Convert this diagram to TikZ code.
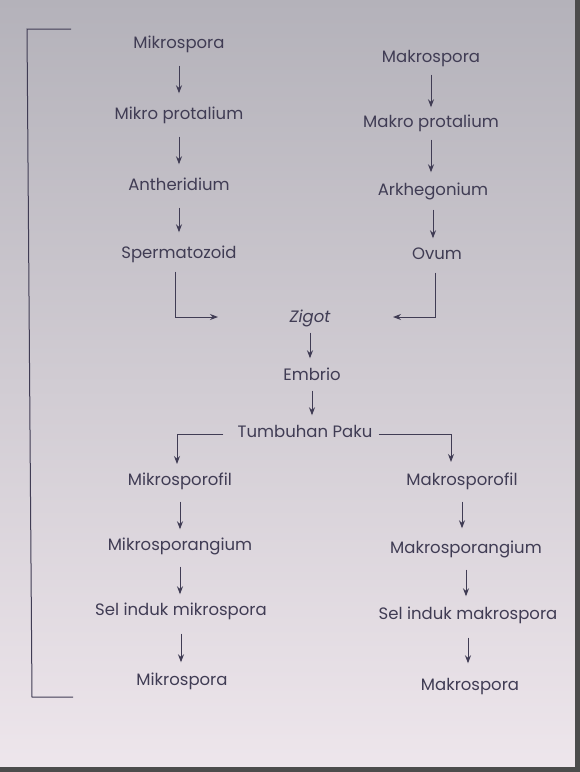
\documentclass[tikz,border=0pt]{standalone}
\usepackage{fontspec}
\setmainfont{Poppins}
\usetikzlibrary{arrows.meta,calc}
\definecolor{ink}{RGB}{64,60,84}
\definecolor{paperT}{RGB}{180,178,186}
\definecolor{paperB}{RGB}{238,230,236}

\begin{document}
\begin{tikzpicture}[x=1pt,y=-1pt,>={Stealth[length=8pt,width=6pt]},
  lbl/.style={font=\fontsize{16.5}{19}\selectfont,text=ink,inner sep=0pt,text height=12pt,text depth=4pt},
  arr/.style={->,ink,line width=1pt,shorten <=13.5pt,shorten >=13.5pt},
  elb/.style={->,ink,line width=1pt}]
\useasboundingbox (0,0) rectangle (580,772);
\shade[top color=paperT,bottom color=paperB] (0,0) rectangle (580,772);
\fill[black!70] (575,0) rectangle (580,772);
\fill[black!70] (0,767) rectangle (580,772);
% ---------- bracket ----------
\draw[ink,line width=1pt] (71,29) -- (27,29) -- (32,697) -- (73,697);
% ---------- mikro ----------
\node[lbl] (mi1) at (179,44) {Mikrospora};
\node[lbl] (mi2) at (179,115) {Mikro protalium};
\node[lbl] (mi3) at (179,186) {Antheridium};
\node[lbl] (mi4) at (179,254) {Spermatozoid};
\draw[arr] (mi1.south) -- (mi1.south |- mi2.north);
\draw[arr] (mi2.south) -- (mi2.south |- mi3.north);
\draw[arr] (mi3.south) -- (mi3.south |- mi4.north);
% ---------- makro ----------
\node[lbl] (ma1) at (431,58) {Makrospora};
\node[lbl] (ma2) at (431,123) {Makro protalium};
\node[lbl] (ma3) at (433,191) {Arkhegonium};
\node[lbl] (ma4) at (437,255) {Ovum};
\draw[arr,shorten <=8.5pt,shorten >=7.5pt] (ma1.south) -- (ma1.south |- ma2.north);
\draw[arr,shorten <=8.5pt,shorten >=10.5pt] (ma2.south) -- (ma2.south |- ma3.north);
\draw[arr,shorten <=10.5pt,shorten >=8.5pt] (ma3.south) -- (ma3.south |- ma4.north);
% ---------- zigot ----------
\node[lbl] (zg) at (310,318) {\itshape Zigot};
\node[lbl] (em) at (312,376) {Embrio};
\node[lbl] (tp) at (305,433) {Tumbuhan Paku};
\coordinate (zL) at (218,317);
\coordinate (zR) at (393,317);
\draw[elb] ([xshift=-4pt,yshift=-9.5pt]mi4.south) |- (zL);
\draw[elb] ([xshift=-2pt,yshift=-9.5pt]ma4.south) |- (zR);
\draw[arr,shorten <=6.5pt,shorten >=9.5pt] (zg.south) -- (zg.south |- em.north);
\draw[arr,shorten <=6.5pt,shorten >=9.5pt] (em.south) -- (em.south |- tp.north);
\coordinate (tL) at (177,464);
\coordinate (tR) at (451,462);
\draw[elb] ([xshift=-14pt,yshift=-1pt]tp.west) -| (tL);
\draw[elb] ([xshift=6pt,yshift=-1pt]tp.east) -| (tR);
% ---------- sporofil ----------
\node[lbl] (mf1) at (180,481) {Mikrosporofil};
\node[lbl] (mf2) at (180,546) {Mikrosporangium};
\node[lbl] (mf3) at (181,611) {Sel induk mikrospora};
\node[lbl] (mf4) at (182,681) {Mikrospora};
\draw[arr,shorten <=12.5pt,shorten >=8.5pt] (mf1.south) -- (mf1.south |- mf2.north);
\draw[arr,shorten <=12.5pt,shorten >=8.5pt] (mf2.south) -- (mf2.south |- mf3.north);
\draw[arr,shorten <=14.5pt,shorten >=10.5pt] (mf3.south) -- (mf3.south |- mf4.north);
\node[lbl] (mg1) at (462,481) {Makrosporofil};
\node[lbl] (mg2) at (466,549) {Makrosporangium};
\node[lbl] (mg3) at (468,615) {Sel induk makrospora};
\node[lbl] (mg4) at (470,686) {Makrospora};
\draw[arr,shorten <=12.5pt,shorten >=12.5pt] (mg1.south) -- (mg1.south |- mg2.north);
\draw[arr,shorten <=12.5pt,shorten >=10.5pt] (mg2.south) -- (mg2.south |- mg3.north);
\draw[arr,shorten <=14.5pt,shorten >=14.5pt] (mg3.south) -- (mg3.south |- mg4.north);
\end{tikzpicture}
\end{document}
